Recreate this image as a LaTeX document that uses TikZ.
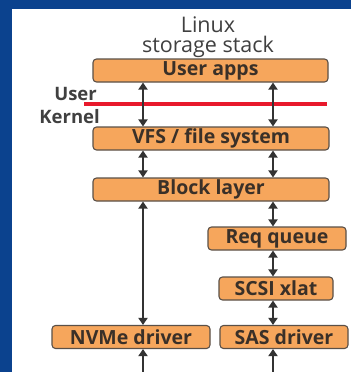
\documentclass[tikz,border=0pt]{standalone}
\usepackage{fontspec}
\setmainfont{Open Sans}
\usetikzlibrary{arrows.meta}
\definecolor{frameblue}{HTML}{0B428E}
\definecolor{boxfill}{HTML}{F6A65C}
\definecolor{boxline}{HTML}{5A5048}
\definecolor{boxtext}{HTML}{3A3028}
\definecolor{captext}{HTML}{404040}
\definecolor{splitred}{HTML}{E8192C}
\definecolor{arrowgray}{HTML}{333333}
\tikzset{
  layer/.style={draw=boxline, fill=boxfill, line width=1.1pt, rounded corners=3.5pt,
    minimum height=23pt, inner sep=0pt, text=boxtext,
    font=\fontsize{19.5}{20}\selectfont\bfseries},
  flow/.style={draw=arrowgray, line width=2pt, {Triangle[length=7pt,width=9pt]}-{Triangle[length=7pt,width=9pt]}},
  upflow/.style={draw=arrowgray, line width=2pt, {Triangle[length=7pt,width=9pt]}-},
  caption/.style={text=captext, font=\fontsize{21.5}{19.5}\selectfont, inner sep=0pt},
  side/.style={text=captext, font=\fontsize{18.5}{20}\selectfont\bfseries, inner sep=0pt, anchor=east},
}
\begin{document}
\begin{tikzpicture}[x=1pt,y=-1pt]
\useasboundingbox (0,0) rectangle (351,372);
% frame and white panel
\fill[frameblue] (0,0) rectangle (351,372);
\fill[white] (12,9) rectangle (351,372);

% column positions of the two data paths
\coordinate (xl) at (143,0);
\coordinate (xr) at (273,0);

% title
\node[caption, align=center] (title) at (208,37) {Linux\\storage stack};

% stack layers
\node[layer, minimum width=235pt] (apps) at (210.5,70.5) {User apps};
\node[layer, minimum width=236pt] (vfs) at (211,138.5) {VFS / file system};
\node[layer, minimum width=236pt] (blk) at (211,189.5) {Block layer};
\node[layer, minimum width=138pt] (rq) at (277,238.5) {Req queue};
\node[layer, minimum width=114pt] (scsi) at (276,288.5) {SCSI xlat};
\node[layer, minimum width=158pt] (nvme) at (131,337) {NVMe driver};
\node[layer, minimum width=128pt] (sas) at (284,337) {SAS driver};

% user / kernel boundary
\node[side] (user) at (97,94) {User};
\node[side] (kern) at (100,117) {Kernel};
\coordinate (redL) at (84,104);
\coordinate (redR) at (327,104);
\draw[splitred, line width=3.5pt] (redL) -- (redR);

% data paths
\draw[flow] (apps.south -| xl) -- (vfs.north -| xl);
\draw[flow] (apps.south -| xr) -- (vfs.north -| xr);
\draw[flow] (vfs.south -| xl) -- (blk.north -| xl);
\draw[flow] (vfs.south -| xr) -- (blk.north -| xr);
\draw[flow] (blk.south -| xl) -- (nvme.north -| xl);
\draw[flow] (blk.south -| xr) -- (rq.north -| xr);
\draw[flow] (rq.south -| xr) -- (scsi.north -| xr);
\draw[flow] (scsi.south -| xr) -- (sas.north -| xr);
\coordinate (endL) at (143,380);
\coordinate (endR) at (273,380);
\draw[upflow] (nvme.south -| xl) -- (endL);
\draw[upflow] (sas.south -| xr) -- (endR);
\end{tikzpicture}
\end{document}
